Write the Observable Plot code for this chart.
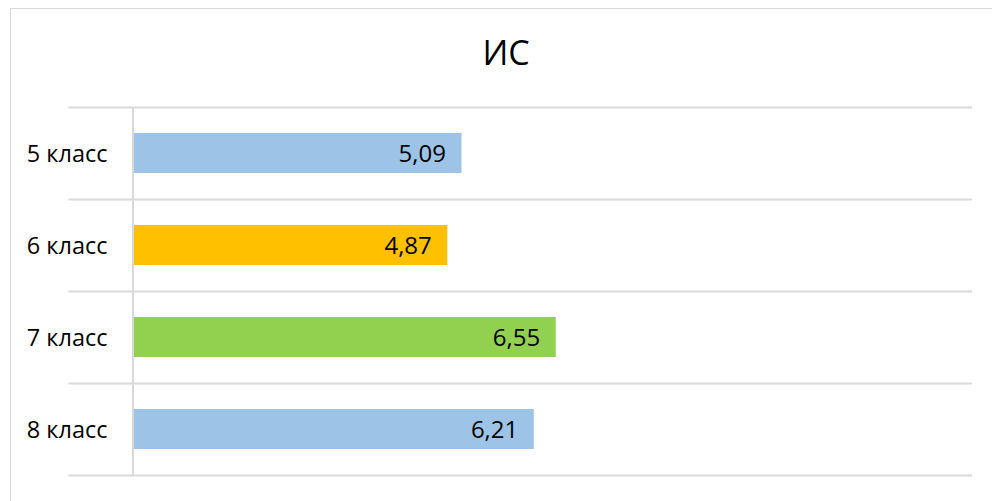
<!DOCTYPE html>
<html>
<head>
<meta charset="utf-8">
<script src="https://cdn.jsdelivr.net/npm/d3@7"></script>
<script src="https://cdn.jsdelivr.net/npm/@observablehq/plot@0.6"></script>
<style>
  html, body { margin: 0; padding: 0; background: #fff; overflow: hidden; }
  body { width: 992px; height: 501px; position: relative; font-family: "Open Sans", sans-serif; }
  #frame { position: absolute; left: 10px; top: 8px; width: 1100px; height: 600px;
           border-left: 1px solid #d9d9d9; border-top: 1px solid #d9d9d9; box-sizing: border-box; }
  #title { position: absolute; left: 0; width: 1012px; top: 28px; text-align: center;
           font-size: 34px; color: #000; line-height: 48px; }
  #chart { position: absolute; left: 0; top: 0; }
</style>
</head>
<body>
<div id="frame"></div>
<div id="chart"></div>
<div id="title">ИС</div>
<script>
const categories = ["5 класс", "6 класс", "7 класс", "8 класс"];
const values = [5.09, 4.87, 6.55, 6.21];
const colors = ["#9DC3E6", "#FFC000", "#92D050", "#9DC3E6"];
const xMax = 13.0;

const data = categories.map((c, i) => ({cat: c, value: values[i], color: colors[i]}));
const fmt = v => v.toFixed(2).replace(".", ",");

const W = 992, H = 501;
const mTop = 107, mBottom = 26;
const half = (H - mTop - mBottom) / categories.length / 2;

const chart = Plot.plot({
  width: W,
  height: H,
  marginTop: mTop,
  marginBottom: mBottom,
  marginLeft: 133,
  marginRight: 20,
  style: {fontFamily: "'Open Sans', sans-serif", background: "transparent", overflow: "visible"},
  x: {domain: [0, xMax], axis: null},
  y: {domain: categories, padding: 0, axis: null},
  marks: [
    Plot.ruleY(categories, {y: d => d, x1: -1, x2: xMax, stroke: "#d9d9d9", strokeWidth: 2, dy: -half}),
    Plot.ruleY([categories[categories.length - 1]], {y: d => d, x1: -1, x2: xMax, stroke: "#d9d9d9", strokeWidth: 2, dy: half}),
    Plot.barX(data, {y: "cat", x: "value", fill: d => d.color, insetTop: 26, insetBottom: 26}),
    Plot.ruleX([0], {stroke: "#d9d9d9", strokeWidth: 2, dx: -0.5}),
    Plot.text(data, {y: "cat", x: "value", text: d => fmt(d.value), textAnchor: "end", dx: -16, dy: 1, fontSize: 24, fill: "#000"}),
    Plot.text(data, {y: "cat", x: 0, text: "cat", textAnchor: "end", dx: -26, dy: 1, fontSize: 23.5, fill: "#000"})
  ]
});
document.getElementById("chart").appendChild(chart);
</script>
</body>
</html>
